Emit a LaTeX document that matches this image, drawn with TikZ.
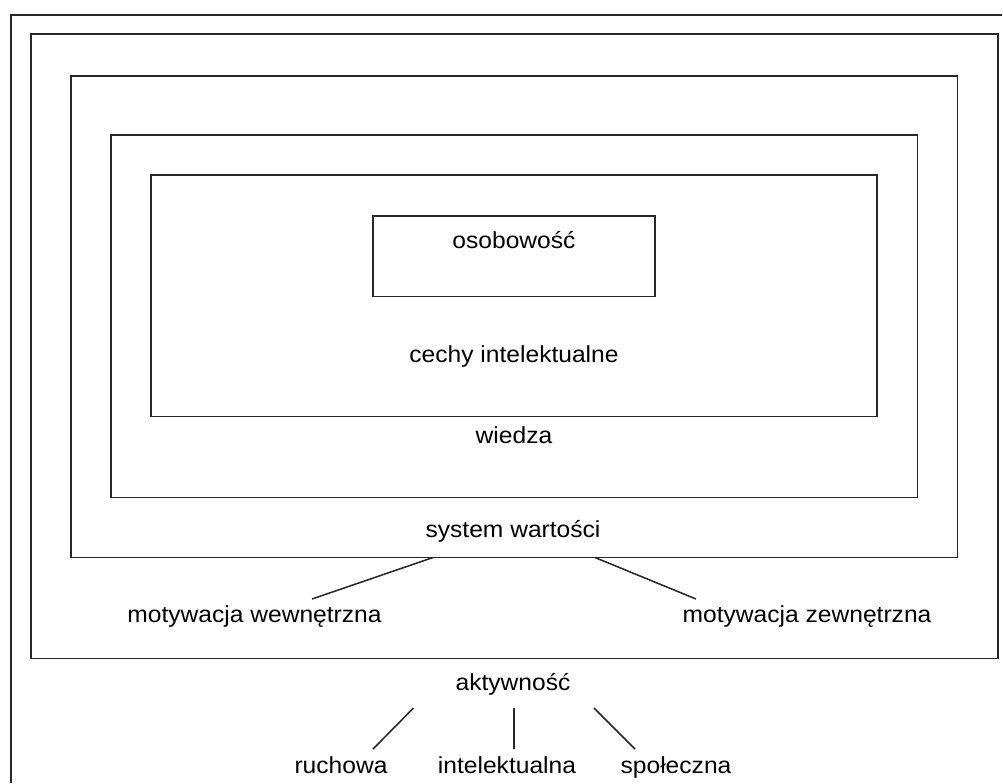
\documentclass[tikz,border=0pt]{standalone}
\usepackage{fontspec}
\setmainfont{Liberation Sans}[FakeStretch=1.06]
\usetikzlibrary{positioning}
\definecolor{frameGray}{RGB}{40,40,40}

\begin{document}
\begin{tikzpicture}[x=0.025cm, y=-0.025cm,
    framebox/.style={draw=frameGray, line width=1.3pt},
    lbl/.style={font=\fontsize{16.5}{19}\selectfont, inner sep=0pt, anchor=base},
    link/.style={draw=frameGray, line width=1.1pt}
]
\useasboundingbox (0,0) rectangle (1003,783);
% outer frame (cut at the right and bottom)
\draw[framebox] (1001.5,14.7) -- (10.7,14.7) -- (10.7,783);
% nested frames
\draw[framebox] (30.7,34.3) rectangle (997.7,658.5);
\draw[framebox] (71,75.7) rectangle (957.5,557.5);
\draw[framebox] (111,135) rectangle (917.5,497.5);
\draw[framebox] (151,175) rectangle (877,416.5);
\draw[framebox] (373.3,215.7) rectangle (655,296.5);

% texts
\node[lbl] (osob) at (514,248) {osobowość};
\node[lbl] (cechy) at (514,362) {cechy intelektualne};
\node[lbl] (wiedza) at (514,443) {wiedza};
\node[lbl] (wart) at (513,537) {system wartości};
\node[lbl] (mwew) at (254.5,622) {motywacja wewnętrzna};
\node[lbl] (mzew) at (807,622) {motywacja zewnętrzna};
\node[lbl] (akt) at (513,690) {aktywność};
\node[lbl] (ruch) at (341,773) {ruchowa};
\node[lbl] (intel) at (507,773) {intelektualna};
\node[lbl] (spol) at (676,773) {społeczna};

% connector ends
\coordinate (wartL) at (433,557.5);
\coordinate (wartR) at (595,557.5);
\coordinate (mwewTop) at (312,599);
\coordinate (mzewTop) at (696,599);
\coordinate (aktL) at (413.5,708);
\coordinate (aktM) at (514,708);
\coordinate (aktR) at (594,708);
\coordinate (ruchTop) at (373,749);
\coordinate (intelTop) at (514,749);
\coordinate (spolTop) at (635,749);

\draw[link] (wartL) -- (mwewTop);
\draw[link] (wartR) -- (mzewTop);
\draw[link] (aktL) -- (ruchTop);
\draw[link] (aktM) -- (intelTop);
\draw[link] (aktR) -- (spolTop);
\end{tikzpicture}
\end{document}
